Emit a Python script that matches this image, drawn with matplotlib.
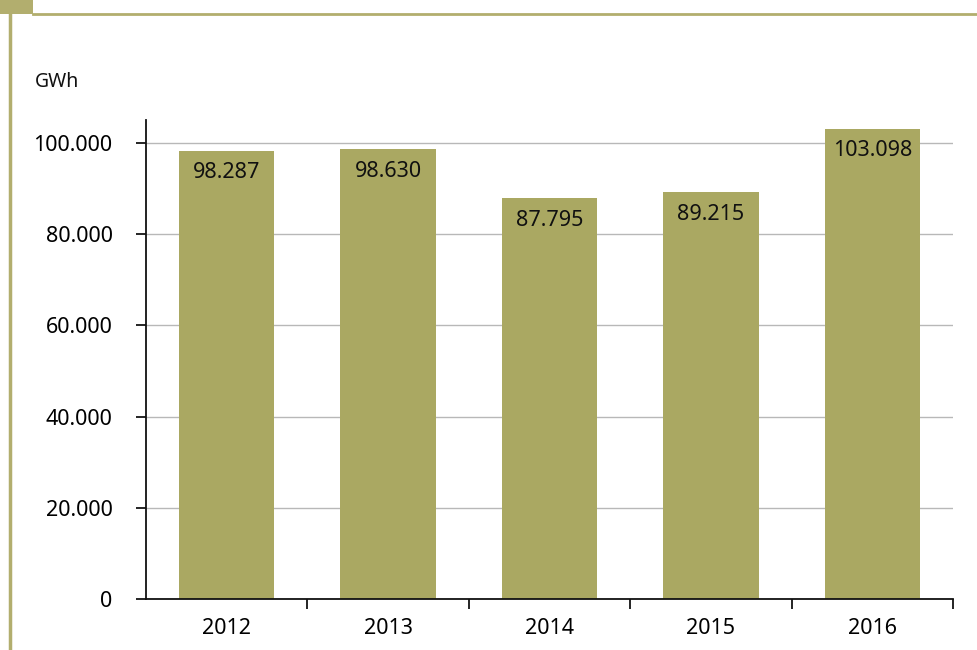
import matplotlib
matplotlib.use('Agg')
import matplotlib.pyplot as plt
from matplotlib.patches import Rectangle
from matplotlib.lines import Line2D

# energy per year, GWh
years = ['2012', '2013', '2014', '2015', '2016']
values = [98287, 98630, 87795, 89215, 103098]
yticks = [0, 20000, 40000, 60000, 80000, 100000]

olive = '#aaa862'
frame = '#b2ae6e'

plt.rcParams['font.family'] = ['Noto Sans', 'DejaVu Sans']

fig = plt.figure(figsize=(9.78, 6.5), dpi=100)
fig.patch.set_facecolor('white')

# frame around the chart (top bar with small square, left rule)
fig.add_artist(Rectangle((0, 1 - 14 / 650), 33 / 978, 14 / 650,
                         transform=fig.transFigure, color=frame, lw=0))
fig.add_artist(Line2D([33 / 978, 1], [1 - 14 / 650, 1 - 14 / 650],
                      transform=fig.transFigure, color=frame, lw=2))
fig.add_artist(Line2D([9.5 / 978, 9.5 / 978], [0, 1 - 14 / 650],
                      transform=fig.transFigure, color=frame, lw=2.5))

ax = fig.add_axes([146 / 978, 51 / 650, 807 / 978, 479 / 650])

x = list(range(len(years)))
ax.bar(x, values, width=0.59, color=olive, zorder=2)

def fmt(v):
    return f'{v:,}'.replace(',', '.')

for xi, v in zip(x, values):
    ax.annotate(fmt(v), (xi, v), xytext=(0, -16), textcoords='offset points',
                ha='center', va='center', fontsize=15.5, color='#111111', zorder=3)

ax.set_xlim(-0.5, len(years) - 0.5)
ax.set_ylim(0, 105000)
ax.set_yticks(yticks, labels=[fmt(t) for t in yticks])
ax.set_xticks(x, labels=years)
ax.set_xticks([i + 0.5 for i in x], minor=True)

ax.tick_params(axis='x', which='major', length=0, pad=14, labelsize=15.5)
ax.tick_params(axis='x', which='minor', length=7, width=1.2, direction='out')
ax.tick_params(axis='y', length=7, width=1.2, direction='out', pad=17, labelsize=15.5)

ax.grid(axis='y', color='#b8b8b8', lw=1, zorder=0)
ax.set_axisbelow(True)
for s in ['top', 'right']:
    ax.spines[s].set_visible(False)
for s in ['left', 'bottom']:
    ax.spines[s].set_linewidth(1.3)
    ax.spines[s].set_color('#111111')

fig.text(35 / 978, 1 - 82 / 650, 'GWh', fontsize=14, va='center', ha='left', color='#111111')

fig.savefig('out.png', dpi=100, facecolor='white')
